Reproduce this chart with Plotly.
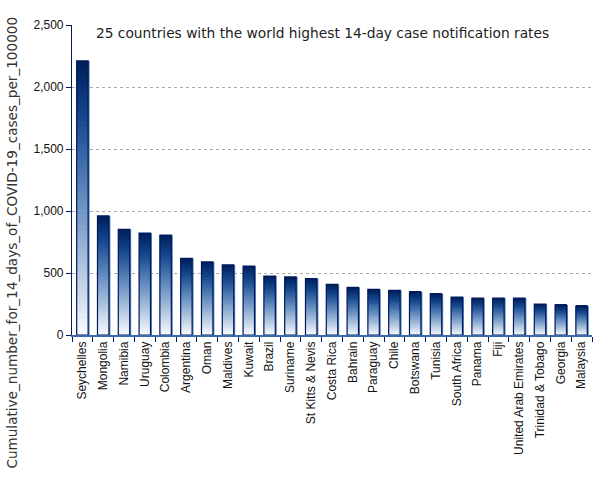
import plotly.graph_objects as go

countries = ["Seychelles", "Mongolia", "Namibia", "Uruguay", "Colombia", "Argentina", "Oman",
             "Maldives", "Kuwait", "Brazil", "Suriname", "St Kitts & Nevis", "Costa Rica", "Bahrain",
             "Paraguay", "Chile", "Botswana", "Tunisia", "South Africa", "Panama", "Fiji",
             "United Arab Emirates", "Trinidad & Tobago", "Georgia", "Malaysia"]
rates = [2210, 960, 852, 822, 806, 618, 589, 565, 556, 476, 468, 454, 409, 384, 368, 360,
         347, 331, 306, 298, 298, 298, 250, 242, 234]
tick_vals = [0, 500, 1000, 1500, 2000, 2500]
tick_text = ["0", "500", "1,000", "1,500", "2,000", "2,500"]
title_text = "25 countries with the world highest 14-day case notification rates"
y_title = "Cumulative_number_for_14_days_of_COVID-19_cases_per_100000"

W = 0.55
N = 50
stops = [(0.0, (250, 252, 255)), (0.5, (100, 140, 190)), (0.8, (20, 70, 140)), (1.0, (0, 30, 90))]


def grad(t):
    for (t0, c0), (t1, c1) in zip(stops[:-1], stops[1:]):
        if t <= t1:
            f = (t - t0) / (t1 - t0)
            return tuple(int(round(c0[i] + (c1[i] - c0[i]) * f)) for i in range(3))
    return stops[-1][1]


fig = go.Figure()
# blue edge on the right side of each bar
fig.add_trace(go.Bar(
    x=countries, y=rates, width=W, offset=-W / 2 + 0.07,
    marker=dict(color="rgba(40,100,170,0.8)", line=dict(width=0)),
    hoverinfo="skip", showlegend=False))
for k in range(N):
    t = (k + 0.5) / N  # 0 bottom -> 1 top
    c = grad(t)
    fig.add_trace(go.Bar(
        x=countries,
        y=[min(v * (k + 2.0) / N, v) - v * k / N for v in rates],
        base=[v * k / N for v in rates],
        width=W, offset=-W / 2,
        marker=dict(color="rgb(%d,%d,%d)" % c, line=dict(width=0)),
        hoverinfo="skip", showlegend=False))
fig.add_trace(go.Bar(
    x=countries, y=rates, width=W, offset=-W / 2,
    marker=dict(color="rgba(0,0,0,0)", line=dict(color="#001a5c", width=1.2)),
    showlegend=False))

fig.update_layout(
    width=605, height=480, barmode="overlay",
    margin=dict(l=72, r=13, t=25, b=145),
    plot_bgcolor="white", paper_bgcolor="white",
    font=dict(family="Liberation Sans", size=12, color="#111"),
    annotations=[
        dict(text=title_text, x=0.043, xref="paper", y=0.974, yref="paper",
             xanchor="left", yanchor="middle", showarrow=False,
             font=dict(family="DejaVu Sans", size=13.75, color="#222")),
        dict(text=y_title, x=-0.1154, xref="paper", y=0.298, yref="paper",
             xanchor="center", yanchor="middle", showarrow=False, textangle=-90,
             font=dict(family="DejaVu Sans", size=13.6, color="#333")),
    ],
)
fig.update_xaxes(
    type="category", automargin=False, showline=True, linecolor="#3a6aa8", linewidth=1.5,
    ticks="outside", tickson="boundaries", ticklen=5, tickcolor="#001a5c",
    tickangle=-90, tickfont=dict(family="Liberation Sans", size=12, color="#111"),
    showgrid=False, range=[-0.5, 24.5])
fig.update_yaxes(
    automargin=False, range=[0, 2500], tickvals=tick_vals, ticktext=tick_text,
    showline=True, linecolor="#001a5c", linewidth=1.2,
    ticks="outside", ticklen=5, tickcolor="#001a5c",
    showgrid=True, gridcolor="#aaaaaa", griddash="dot", gridwidth=1,
    zeroline=False,
    tickfont=dict(family="Liberation Sans", size=12, color="#111"))

fig.write_html("out.html", config={"displayModeBar": False},
               post_script="document.body.style.margin='0';")
